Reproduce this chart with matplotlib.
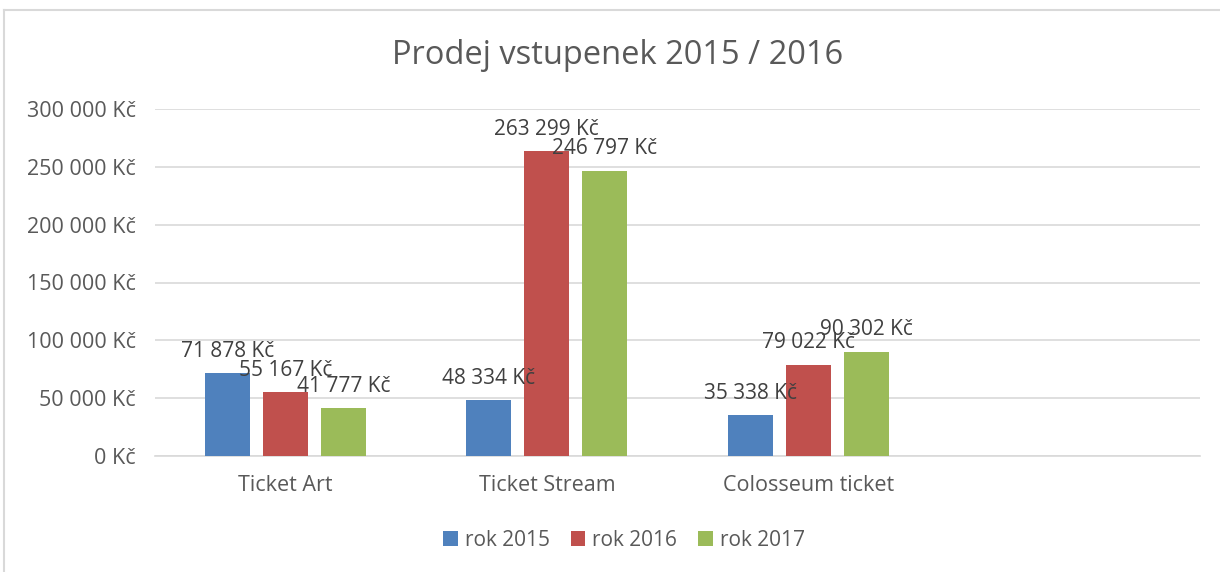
import matplotlib
matplotlib.use("Agg")
import matplotlib.pyplot as plt
import numpy as np

categories = ["Ticket Art", "Ticket Stream", "Colosseum ticket", ""]
series_names = ["rok 2015", "rok 2016", "rok 2017"]
rok_2015 = [71878, 48334, 35338, None]
rok_2016 = [55167, 263299, 79022, None]
rok_2017 = [41777, 246797, 90302, None]
yticks = [0, 50000, 100000, 150000, 200000, 250000, 300000]
colors = ["#4f81bd", "#c0504d", "#9bbb59"]

plt.rcParams['font.family'] = ['Open Sans', 'DejaVu Sans']
txt = "#595959"

def fmt(v):
    return f"{v:,.0f}".replace(",", " ") + " Kč"

fig = plt.figure(figsize=(12.2, 5.72), dpi=100)
ax = fig.add_axes([155/1220, 1-456/572, 1045/1220, (456-109)/572])

x = np.arange(len(categories))
w = 0.172
offs = [-0.222, 0, 0.222]
for s, (vals, c, name) in enumerate(zip([rok_2015, rok_2016, rok_2017], colors, series_names)):
    xs = [xi + offs[s] for xi, v in zip(x, vals) if v is not None]
    vs = [v for v in vals if v is not None]
    bars = ax.bar(xs, vs, width=w, color=c, label=name, zorder=3)
    for b, v in zip(bars, vs):
        ax.annotate(fmt(v), (b.get_x() + b.get_width()/2, v), xytext=(0, 8),
                    textcoords="offset points", ha="center", va="bottom",
                    fontsize=15, color="#404040", zorder=4)

ax.set_xlim(-0.5, len(categories) - 0.5)
ax.set_ylim(0, 300000)
ax.set_yticks(yticks)
ax.set_yticklabels([fmt(v) for v in yticks], fontsize=15.5, color=txt)
ax.set_xticks(x)
ax.set_xticklabels(categories, fontsize=15.5, color=txt)
ax.tick_params(axis='y', length=0, pad=14)
ax.tick_params(axis='x', length=0, pad=14)
ax.grid(axis='y', color="#d9d9d9", linewidth=1.2, zorder=0)
for sp in ["top", "right", "left"]:
    ax.spines[sp].set_visible(False)
ax.spines["bottom"].set_color("#d9d9d9")
ax.spines["bottom"].set_linewidth(1.2)

fig.text(618/1220, 1-55/572, "Prodej vstupenek 2015 / 2016", ha="center", va="center",
         fontsize=23.5, color=txt)

leg = fig.legend(loc="center", bbox_to_anchor=(624/1220, 1-540/572), ncol=3, frameon=False,
                 fontsize=15, handlelength=0.7, handleheight=0.7, handletextpad=0.35,
                 columnspacing=1.0)
for t in leg.get_texts():
    t.set_color(txt)

# chart border (top and left visible)
fig.add_artist(plt.Line2D([4/1220, 1.0], [1-10/572, 1-10/572], color="#d9d9d9", linewidth=1.5,
                          transform=fig.transFigure))
fig.add_artist(plt.Line2D([4/1220, 4/1220], [0, 1-10/572], color="#d9d9d9", linewidth=1.5,
                          transform=fig.transFigure))

fig.savefig("out.png", dpi=100)
